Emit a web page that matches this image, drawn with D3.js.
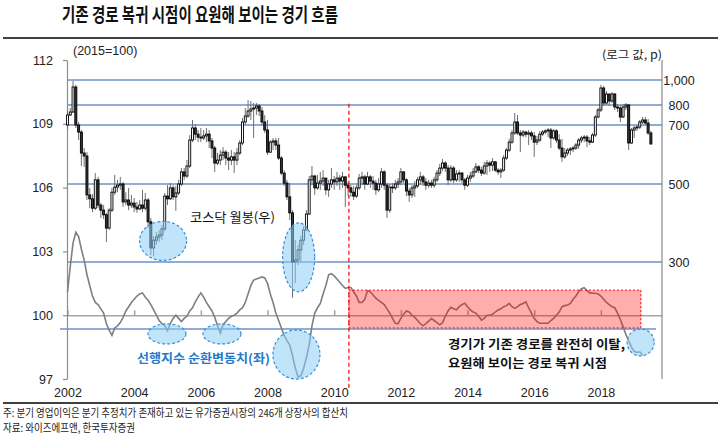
<!DOCTYPE html>
<html>
<head>
<meta charset="utf-8">
<script src="https://cdn.jsdelivr.net/npm/d3@7/dist/d3.min.js"></script>
<style>
  body { margin: 0; background: #fff; }
  svg { display: block; }
  text { font-family: "Noto Sans CJK KR", "Noto Sans", sans-serif; }
  .num { font-family: "Liberation Sans", Arial, sans-serif; }
</style>
</head>
<body>
<div id="vis"></div>
<script>
// x axis labels (every 2 years), month index 0 = Jan 2002
var years = ["2002", "2004", "2006", "2008", "2010", "2012", "2014", "2016", "2018"];
var leftTicks = [97, 100, 103, 106, 109, 112];
var rightTicks = [300, 500, 700, 800, 1000];
var rightLabels = ["300", "500", "700", "800", "1,000"];

// KOSDAQ monthly candles (p), Jan 2002 - Jul 2019
var kosdaqOpen0 = 700;
var kosdaqClose = [
  750,765,944,700,676,605,595,472,462,438,514,446,
  433,421,387,433,479,492,497,500,454,459,446,451,
  441,436,446,438,459,403,336,356,364,369,385,469,
  462,490,467,477,500,541,527,561,649,690,669,659,
  656,663,669,646,622,571,581,598,608,588,581,592,
  581,605,639,715,745,770,780,785,795,770,715,683,
  608,642,646,632,588,537,503,467,426,300,305,331,
  356,382,423,514,527,490,503,510,520,485,500,514,
  507,520,510,524,497,490,479,469,490,520,524,500,
  524,510,503,485,500,541,497,433,492,490,500,507,
  541,514,482,472,490,495,514,524,507,497,503,497,
  514,537,554,571,554,514,554,514,534,537,514,497,
  520,527,541,558,547,537,561,571,564,575,547,541,
  547,588,615,642,673,715,673,666,676,669,673,663,
  642,649,669,676,680,683,656,680,649,622,592,605,
  615,619,622,632,649,656,659,646,642,666,740,775,
  936,816,888,832,888,790,785,740,790,800,639,683,
  690,693,715,725,710,673,636
];
var kosdaqHigh = [
  775,785,992,960,715,683,622,608,490,474,537,524,
  451,446,426,438,490,531,514,524,507,479,490,472,
  464,454,459,485,477,464,413,367,377,382,395,477,
  497,503,497,495,514,554,554,581,666,725,705,683,
  690,683,690,683,656,629,605,615,625,615,608,615,
  608,622,649,735,785,840,832,816,816,808,790,750,
  725,649,656,656,656,595,547,514,503,433,356,344,
  367,392,433,527,561,531,531,541,547,520,514,554,
  527,541,531,541,527,507,497,495,497,534,541,531,
  541,531,527,514,520,554,547,503,500,503,514,520,
  554,544,520,490,497,510,524,541,531,520,514,514,
  524,547,568,585,578,564,564,561,547,547,541,520,
  531,541,554,571,564,558,575,581,578,588,578,554,
  554,598,622,653,683,760,750,683,683,680,683,680,
  676,663,680,683,686,690,690,686,686,669,653,622,
  622,625,629,639,656,663,666,666,659,673,750,785,
  960,952,912,888,904,896,808,800,808,816,808,690,
  697,700,725,740,740,730,680
];
var kosdaqLow = [
  686,745,760,690,649,561,558,459,438,428,433,438,
  413,410,351,382,428,472,479,485,441,446,433,438,
  428,426,433,428,432,387,318,315,344,351,356,379,
  446,459,459,431,472,495,514,520,554,642,649,642,
  642,649,642,622,588,541,564,564,581,564,547,564,
  537,564,598,632,700,735,725,656,750,745,700,673,
  598,605,615,615,581,531,495,459,408,208,246,292,
  300,344,382,421,497,472,485,485,495,472,467,490,
  485,495,485,490,441,469,467,459,464,485,497,485,
  497,490,485,472,479,490,485,413,426,477,485,490,
  497,503,469,454,464,467,490,497,495,485,490,490,
  490,507,527,544,541,497,507,503,507,507,503,485,
  492,507,520,537,537,527,531,531,541,544,541,531,
  520,541,581,608,636,666,666,608,659,659,632,649,
  592,632,642,663,669,659,622,650,639,615,575,585,
  595,598,608,615,619,639,642,625,632,639,659,735,
  765,795,800,795,816,775,765,715,735,775,615,636,
  656,680,686,705,700,666,632
];

// leading index cyclical component (2015=100), Jan 2002 - Apr 2019
var leadingIdx = [
  101.1,102.3,103.4,103.9,103.7,103.1,102.6,101.9,101.4,100.9,100.6,100.5,
  100.3,100.1,99.6,99.3,99.05,99.4,99.5,99.65,99.9,100.2,100.4,100.6,
  100.75,100.9,101.0,101.05,100.85,100.7,100.5,100.25,100.0,99.75,99.6,99.5,
  99.27,99.6,99.85,100.0,99.85,99.7,99.85,99.95,100.2,100.35,100.63,100.85,
  101.05,100.85,100.6,100.4,100.2,99.9,99.5,99.15,99.55,99.7,99.85,99.95,
  100.0,100.1,100.25,100.35,100.6,101.0,101.4,101.65,101.7,101.75,101.8,101.75,
  101.5,101.0,100.6,100.1,99.75,99.4,99.05,98.8,98.6,98.1,97.5,97.1,
  97.15,97.5,98.0,98.6,99.5,100.1,100.35,100.55,101.0,101.4,101.9,101.95,
  101.85,101.7,101.55,101.4,101.26,101.3,101.3,101.1,100.9,100.6,100.6,100.75,
  101.15,101.1,100.95,100.8,100.7,100.6,100.5,100.3,100.1,99.85,99.62,99.6,
  99.85,100.05,100.2,100.15,100.0,99.9,99.75,99.6,99.5,99.6,99.72,99.84,
  99.75,99.65,99.55,99.65,99.95,100.2,100.37,100.3,100.25,100.4,100.5,100.56,
  100.4,100.25,100.15,100.1,99.95,99.77,99.85,100.0,100.0,100.04,100.15,100.25,
  100.3,100.4,100.45,100.56,100.4,100.32,100.4,100.5,100.55,100.63,100.35,100.1,
  99.85,99.7,99.62,99.62,99.62,99.62,99.75,99.85,100.0,100.15,100.4,100.45,
  100.48,100.55,100.75,100.9,101.1,101.25,101.29,101.15,101.05,101.03,101.03,101.0,
  100.9,100.75,100.6,100.5,100.4,100.35,100.1,99.8,99.45,99.1,98.8,98.5,
  98.3,98.25,98.28,98.13
];

// annotation marks (month index / axis values)
var breakMonth = 101.3, boxEndMonth = 206.4;
var boxTop = 101.18, boxBottom = 99.4;
var refLevel = 99.35;

var width = 718, height = 439;

var svg = d3.select("#vis").append("svg")
  .attr("width", width)
  .attr("height", height);

var x = d3.scaleLinear().domain([0, 214]).range([67.5, 662]);
var yL = d3.scaleLinear().domain([97, 112]).range([379, 60]);
// right axis labels are not evenly spaced in log terms on the original, so map them piecewise
var yR = d3.scaleLinear().domain(rightTicks).range([262, 184, 125, 105, 80]);

var yearTicks = years.map(function(d) { return (+d - 2002) * 12; });

// title
svg.append("text")
  .attr("x", 62).attr("y", 21.5)
  .attr("textLength", 276).attr("lengthAdjust", "spacingAndGlyphs")
  .style("font-size", "19px").style("font-weight", "bold").style("fill", "#111")
  .text("기존 경로 복귀 시점이 요원해 보이는 경기 흐름");

svg.append("line")
  .attr("x1", 3).attr("x2", 718).attr("y1", 38).attr("y2", 38)
  .style("stroke", "#000").style("stroke-width", 1.4);

// blue guide lines at right axis levels
svg.selectAll(".grid")
  .data(rightTicks)
  .enter().append("line")
  .attr("class", "grid")
  .attr("x1", 67).attr("x2", 662)
  .attr("y1", function(d) { return yR(d); })
  .attr("y2", function(d) { return yR(d); })
  .style("stroke", "#6a93c9").style("stroke-width", 1.4);

svg.append("line")
  .attr("x1", 60).attr("x2", 656)
  .attr("y1", yL(refLevel)).attr("y2", yL(refLevel))
  .style("stroke", "#6a93c9").style("stroke-width", 1.4);

// x axis sits on 100
var xAxis = svg.append("g")
  .attr("transform", "translate(0," + yL(100) + ")")
  .call(d3.axisTop(x).tickValues(yearTicks).tickSize(5).tickSizeOuter(0).tickFormat(""));
xAxis.selectAll("path, line").style("stroke", "#a6a6a6").style("stroke-width", 1.5);

var xLabels = svg.append("g")
  .attr("transform", "translate(0," + yL(97) + ")")
  .call(d3.axisBottom(x).tickValues(yearTicks).tickSize(0).tickPadding(9)
    .tickFormat(function(d, i) { return years[i]; }));
xLabels.select(".domain").remove();
xLabels.selectAll("text").attr("class", "num").style("font-size", "12.5px").style("fill", "#222");

// left axis
var leftAxis = svg.append("g")
  .attr("transform", "translate(67,0)")
  .call(d3.axisLeft(yL).tickValues(leftTicks).tickSize(4).tickSizeOuter(0).tickPadding(10));
leftAxis.selectAll("path, line").style("stroke", "#8c8c8c").style("stroke-width", 1.2);
leftAxis.selectAll("text").attr("class", "num").style("font-size", "12.5px").style("fill", "#222");

// right axis
svg.append("line")
  .attr("x1", 662).attr("x2", 662).attr("y1", 60).attr("y2", 379)
  .style("stroke", "#8c8c8c").style("stroke-width", 1.2);

var rightAxis = svg.append("g")
  .attr("transform", "translate(662,0)")
  .call(d3.axisRight(yR).tickValues(rightTicks).tickSize(0).tickPadding(17)
    .tickFormat(function(d, i) { return rightLabels[i]; }));
rightAxis.select(".domain").remove();
rightAxis.selectAll("text").attr("class", "num")
  .style("text-anchor", "middle").style("font-size", "12.5px").style("fill", "#222");

// leading index line
var line = d3.line()
  .x(function(d, i) { return x(i); })
  .y(function(d) { return yL(d); });

svg.append("path")
  .datum(leadingIdx)
  .attr("d", line)
  .style("fill", "none").style("stroke", "#7f7f7f").style("stroke-width", 1.6);

// candles, open = previous month close
var candles = kosdaqClose.map(function(c, i) {
  return {
    i: i,
    open: i == 0 ? kosdaqOpen0 : kosdaqClose[i - 1],
    close: c,
    high: kosdaqHigh[i],
    low: kosdaqLow[i]
  };
});

var cg = svg.append("g");

cg.selectAll(".wick")
  .data(candles)
  .enter().append("line")
  .attr("class", "wick")
  .attr("x1", function(d) { return x(d.i); })
  .attr("x2", function(d) { return x(d.i); })
  .attr("y1", function(d) { return yR(d.high); })
  .attr("y2", function(d) { return yR(d.low); })
  .style("stroke", "#6e6e6e").style("stroke-width", 1);

cg.selectAll(".body")
  .data(candles)
  .enter().append("rect")
  .attr("class", "body")
  .attr("x", function(d) { return x(d.i) - 1; })
  .attr("width", 2)
  .attr("y", function(d) { return yR(Math.max(d.open, d.close)); })
  .attr("height", function(d) { return Math.max(Math.abs(yR(d.open) - yR(d.close)), 0.8); })
  .style("fill", function(d) { return d.close >= d.open ? "#fff" : "#383838"; })
  .style("stroke", "#000").style("stroke-width", 0.9);

// red box over the period that stays off the old path
svg.append("rect")
  .attr("x", x(breakMonth))
  .attr("y", yL(boxTop))
  .attr("width", x(boxEndMonth) - x(breakMonth))
  .attr("height", yL(boxBottom) - yL(boxTop))
  .style("fill", "rgba(255,0,0,0.32)")
  .style("stroke", "#ff0000").style("stroke-width", 1).style("stroke-dasharray", "2,2");

svg.append("line")
  .attr("x1", x(breakMonth)).attr("x2", x(breakMonth))
  .attr("y1", yR(810)).attr("y2", yL(97) + 9)
  .style("stroke", "#ff0000").style("stroke-width", 1.2).style("stroke-dasharray", "4,3");

// blue circles
var rings = [
  {m: 34.4, v: 354, axis: "R", rx: 23.5, ry: 19.5},
  {m: 83.2, v: 312, axis: "R", rx: 16, ry: 34.5},
  {m: 35.8, v: 99.12, axis: "L", rx: 19, ry: 10},
  {m: 55.6, v: 99.12, axis: "L", rx: 19, ry: 10},
  {m: 82.4, v: 98.15, axis: "L", rx: 23.5, ry: 24.5},
  {m: 206.3, v: 98.72, axis: "L", rx: 13.5, ry: 13.5}
];

svg.selectAll(".ring")
  .data(rings)
  .enter().append("ellipse")
  .attr("class", "ring")
  .attr("cx", function(d) { return x(d.m); })
  .attr("cy", function(d) { return d.axis == "R" ? yR(d.v) : yL(d.v); })
  .attr("rx", function(d) { return d.rx; })
  .attr("ry", function(d) { return d.ry; })
  .style("fill", "rgba(140,205,245,0.55)")
  .style("stroke", "#3b8fd6").style("stroke-width", 1.2).style("stroke-dasharray", "3,2");

// labels
svg.append("text").attr("class", "num")
  .attr("x", 73).attr("y", 55)
  .style("font-size", "12.5px").style("fill", "#222")
  .text("(2015=100)");

svg.append("text")
  .attr("x", 602).attr("y", 58.5)
  .attr("textLength", 60).attr("lengthAdjust", "spacingAndGlyphs")
  .style("font-size", "11.5px").style("fill", "#222")
  .text("(로그 값, p)");

svg.append("text")
  .attr("x", 190).attr("y", 221.5)
  .attr("textLength", 85).attr("lengthAdjust", "spacingAndGlyphs")
  .style("font-size", "13px").style("fill", "#111")
  .text("코스닥 월봉(우)");

svg.append("text")
  .attr("x", 137).attr("y", 362.5)
  .attr("textLength", 133).attr("lengthAdjust", "spacingAndGlyphs")
  .style("font-size", "12.5px").style("font-weight", "bold").style("fill", "#1f7bc8")
  .text("선행지수 순환변동치(좌)");

svg.append("text")
  .attr("x", 448).attr("y", 348.5)
  .attr("textLength", 177).attr("lengthAdjust", "spacingAndGlyphs")
  .style("font-size", "12.5px").style("font-weight", "bold").style("fill", "#111")
  .text("경기가 기존 경로를 완전히 이탈,");

svg.append("text")
  .attr("x", 448).attr("y", 368)
  .attr("textLength", 159).attr("lengthAdjust", "spacingAndGlyphs")
  .style("font-size", "12.5px").style("font-weight", "bold").style("fill", "#111")
  .text("요원해 보이는 경로 복귀 시점");

// footer
svg.append("line")
  .attr("x1", 3).attr("x2", 718).attr("y1", 403).attr("y2", 403)
  .style("stroke", "#000").style("stroke-width", 1.4);

svg.append("text")
  .attr("x", 3).attr("y", 417)
  .attr("textLength", 345).attr("lengthAdjust", "spacingAndGlyphs")
  .style("font-size", "11px").style("fill", "#222")
  .text("주: 분기 영업이익은 분기 추정치가 존재하고 있는 유가증권시장의 246개 상장사의 합산치");

svg.append("text")
  .attr("x", 3).attr("y", 432)
  .attr("textLength", 132).attr("lengthAdjust", "spacingAndGlyphs")
  .style("font-size", "11px").style("fill", "#222")
  .text("자료: 와이즈에프앤, 한국투자증권");
</script>
</body>
</html>
